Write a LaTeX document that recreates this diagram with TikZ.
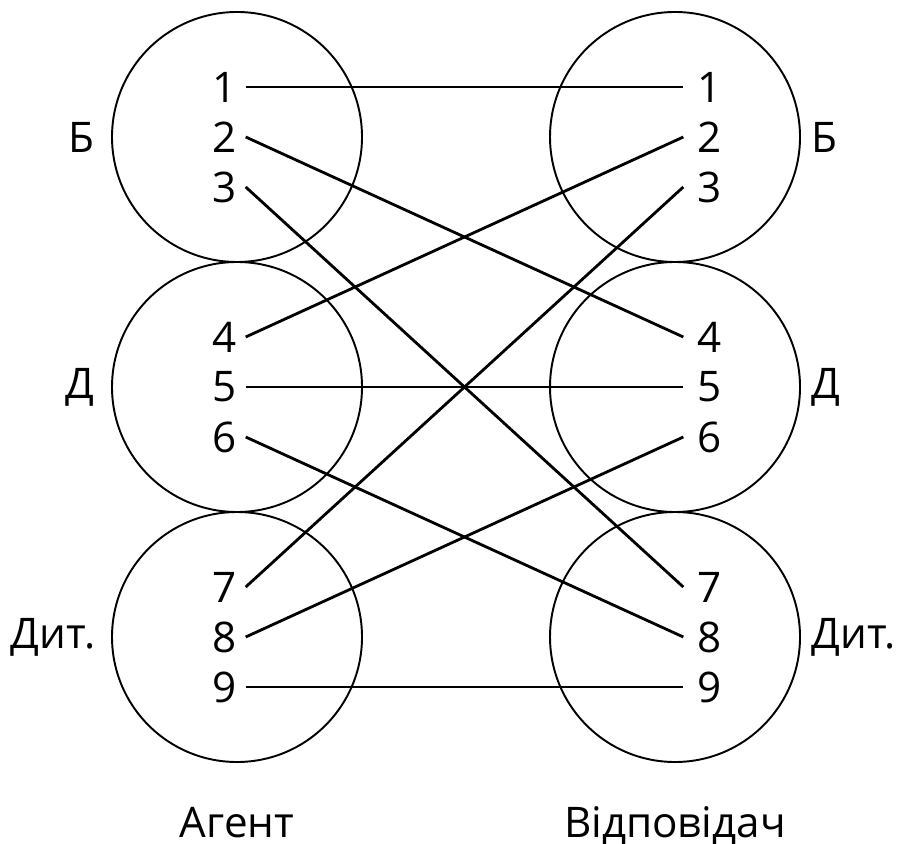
\documentclass[tikz,border=0pt]{standalone}
\usepackage{fontspec}
\setmainfont{Open Sans}
\usetikzlibrary{positioning}

\begin{document}
\begin{tikzpicture}[x=0.1mm, y=-0.1mm, font=\fontsize{12}{14}\selectfont,
  ring/.style={draw, circle, line width=0.55pt, minimum size=25mm, inner sep=0pt},
  num/.style={inner xsep=1.3mm, inner ysep=0pt, text width=2mm, align=center},
  lab/.style={inner sep=0pt},
  link/.style={line width=0.8pt}]
\useasboundingbox (0,0) rectangle (898,843);
% circles
\node[ring] (agB) at (237,137) {};
\node[ring] (agD) at (237,387) {};
\node[ring] (agT) at (237,637) {};
\node[ring] (vdB) at (675,137) {};
\node[ring] (vdD) at (675,387) {};
\node[ring] (vdT) at (675,637) {};
% group labels
\node[lab, left=1.6mm of agB] (lB) {Б};
\node[lab, left=1.6mm of agD] (lD) {Д};
\node[lab, left=1.5mm of agT] (lT) {Дит.};
\node[lab, right=1mm of vdB] (rB) {Б};
\node[lab, right=1mm of vdD] (rD) {Д};
\node[lab, right=1mm of vdT] (rT) {Дит.};
\node[lab, anchor=base] (agent) at (237,837) {Агент};
\node[lab, anchor=base] (resp) at (675,837) {Відповідач};
% left numbers
\node[num] (l1) at (222,87) {1};
\node[num] (l2) at (222,137) {2};
\node[num] (l3) at (222,187) {3};
\node[num] (l4) at (222,337) {4};
\node[num] (l5) at (222,387) {5};
\node[num] (l6) at (222,437) {6};
\node[num] (l7) at (222,587) {7};
\node[num] (l8) at (222,637) {8};
\node[num] (l9) at (222,687) {9};
% right numbers
\node[num] (r1) at (707,87) {1};
\node[num] (r2) at (707,137) {2};
\node[num] (r3) at (707,187) {3};
\node[num] (r4) at (707,337) {4};
\node[num] (r5) at (707,387) {5};
\node[num] (r6) at (707,437) {6};
\node[num] (r7) at (707,587) {7};
\node[num] (r8) at (707,637) {8};
\node[num] (r9) at (707,687) {9};
% links
\draw[link] (l1.east) -- (r1.west);
\draw[link] (l2.east) -- (r4.west);
\draw[link] (l3.east) -- (r7.west);
\draw[link] (l4.east) -- (r2.west);
\draw[link] (l5.east) -- (r5.west);
\draw[link] (l6.east) -- (r8.west);
\draw[link] (l7.east) -- (r3.west);
\draw[link] (l8.east) -- (r6.west);
\draw[link] (l9.east) -- (r9.west);
\end{tikzpicture}
\end{document}
